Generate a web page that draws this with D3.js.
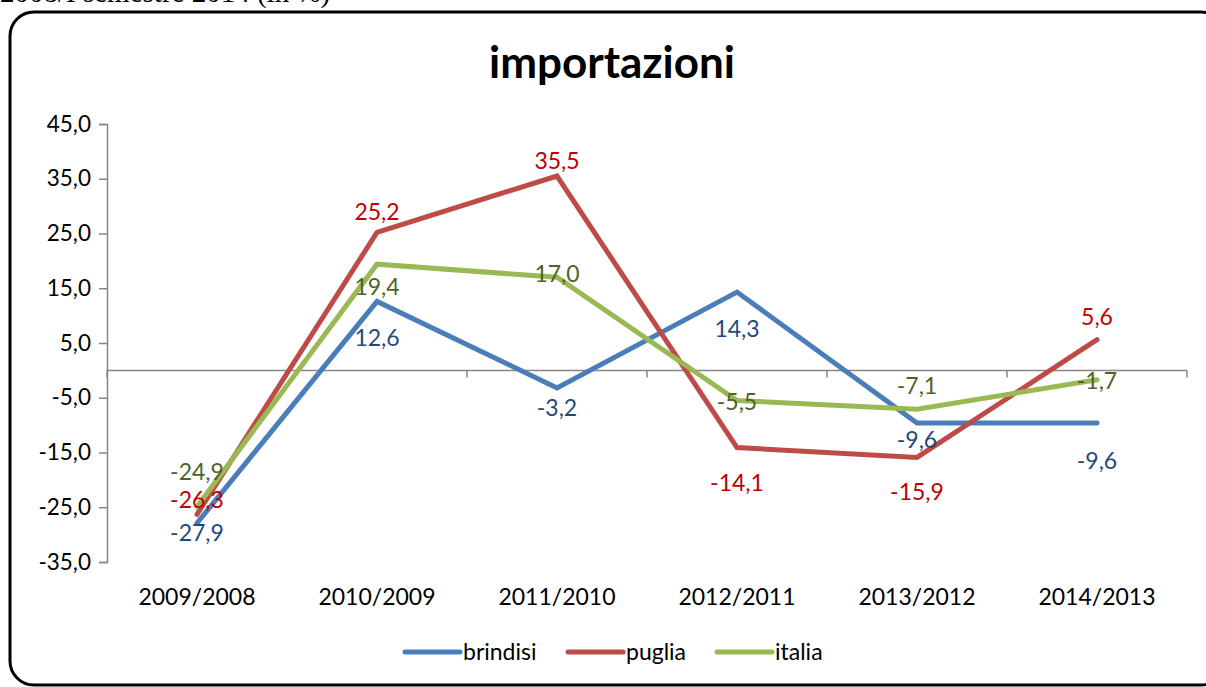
<!DOCTYPE html>
<html><head><meta charset="utf-8">
<script src="https://cdn.jsdelivr.net/npm/d3@7"></script>
<style>
html,body{margin:0;padding:0;background:#fff;overflow:hidden;}
svg{display:block;}
text{font-family:Lato,"Open Sans",sans-serif;}
</style></head>
<body>
<svg id="chart" width="1206" height="687"></svg>
<script>
// ---- data ----
const categories = ["2009/2008","2010/2009","2011/2010","2012/2011","2013/2012","2014/2013"];
const brindisi = [-27.9, 12.6, -3.2, 14.3, -9.6, -9.6];
const puglia   = [-26.3, 25.2, 35.5, -14.1, -15.9, 5.6];
const italia   = [-24.9, 19.4, 17.0, -5.5, -7.1, -1.7];
const seriesNames = ["brindisi","puglia","italia"];
const yTicks = [-35, -25, -15, -5, 5, 15, 25, 35, 45];
const title = "importazioni";
const caption = "2008/I semestre 2014 (in %)";

// ---- layout / style (not data) ----
const lineColors  = ["#4A7EBB", "#BE4B48", "#98B954"];
const labelColors = ["#1F497D", "#C00000", "#4F6228"];
// vertical offsets of each data label centre relative to its point (px)
const labelDy = [
  [10, 37, 20, 37, 17, 38],
  [-14, -20, -15, 35, 35, -23],
  [-35, 23, -3, 1, -23, 1]
];

const svg = d3.select("#chart");
const loc = d3.formatLocale({decimal: ",", thousands: ".", grouping: [3], currency: ["", "€"], minus: "-"});
const fmt = loc.format(".1f");

// caption (cut at top)
svg.append("text").attr("x", 0).attr("y", 2)
  .style("font-family", "'Liberation Serif','Times New Roman',serif")
  .attr("font-size", 29).attr("fill", "#000").text(caption);

// frame
svg.append("rect").attr("x", 10).attr("y", 12).attr("width", 1215).attr("height", 673)
  .attr("rx", 24).attr("ry", 24).attr("fill", "none").attr("stroke", "#000").attr("stroke-width", 3);

// title
svg.append("text").attr("x", 612).attr("y", 78).attr("text-anchor", "middle")
  .attr("font-size", 44).attr("font-weight", "bold").attr("fill", "#000").text(title);

const x = d3.scaleBand().domain(categories).range([107, 1187]).padding(0);
const y = d3.scaleLinear().domain([-35, 45]).range([562, 124]);
const cx = c => x(c) + x.bandwidth() / 2;

// y axis
const yAxis = svg.append("g").attr("transform", "translate(107,0)")
  .call(d3.axisLeft(y).tickValues(yTicks).tickFormat(fmt).tickSize(8).tickPadding(8));
yAxis.select(".domain").attr("stroke", "#868686").attr("stroke-width", 1.5);
yAxis.selectAll(".tick line").attr("stroke", "#868686").attr("stroke-width", 1.5);
yAxis.selectAll(".tick text").attr("font-size", 22.5).attr("fill", "#000")
  .style("font-family", "Lato,'Open Sans',sans-serif");

// x axis at zero
const xAxisG = svg.append("g").attr("transform", `translate(0,${y(0)})`);
xAxisG.append("line").attr("x1", 107).attr("x2", 1187).attr("y1", 0).attr("y2", 0)
  .attr("stroke", "#868686").attr("stroke-width", 1.5);
const bounds = categories.map(c => x(c)).concat([x(categories[categories.length - 1]) + x.bandwidth()]);
xAxisG.selectAll("line.tk").data(bounds).enter().append("line").attr("class", "tk")
  .attr("x1", d => d).attr("x2", d => d).attr("y1", 0).attr("y2", 7)
  .attr("stroke", "#868686").attr("stroke-width", 1.5);

// category labels
svg.selectAll("text.cat").data(categories).enter().append("text").attr("class", "cat")
  .attr("x", d => cx(d)).attr("y", 605).attr("text-anchor", "middle")
  .attr("font-size", 23).attr("fill", "#000").text(d => d);

// lines
const allSeries = [brindisi, puglia, italia];
const line = d3.line().x((d, i) => cx(categories[i])).y(d => y(d));
allSeries.forEach((s, k) => {
  svg.append("path").datum(s).attr("d", line).attr("fill", "none")
    .attr("stroke", lineColors[k]).attr("stroke-width", 5)
    .attr("stroke-linejoin", "miter").attr("stroke-linecap", "round");
});
// labels
allSeries.forEach((s, k) => {
  svg.selectAll("text.lab" + k).data(s).enter().append("text").attr("class", "lab" + k)
    .attr("x", (d, i) => cx(categories[i]))
    .attr("y", (d, i) => y(d) + labelDy[k][i])
    .attr("dy", "0.35em").attr("text-anchor", "middle")
    .attr("font-size", 23).attr("fill", labelColors[k]).text(d => fmt(d));
});

// legend
const legX = [405, 568, 717];
seriesNames.forEach((n, k) => {
  svg.append("line").attr("x1", legX[k]).attr("x2", legX[k] + 55).attr("y1", 652).attr("y2", 652)
    .attr("stroke", lineColors[k]).attr("stroke-width", 5).attr("stroke-linecap", "round");
  svg.append("text").attr("x", legX[k] + 58).attr("y", 652).attr("dy", "0.35em")
    .attr("font-size", 23).attr("fill", "#000").text(n);
});
</script>
</body></html>
